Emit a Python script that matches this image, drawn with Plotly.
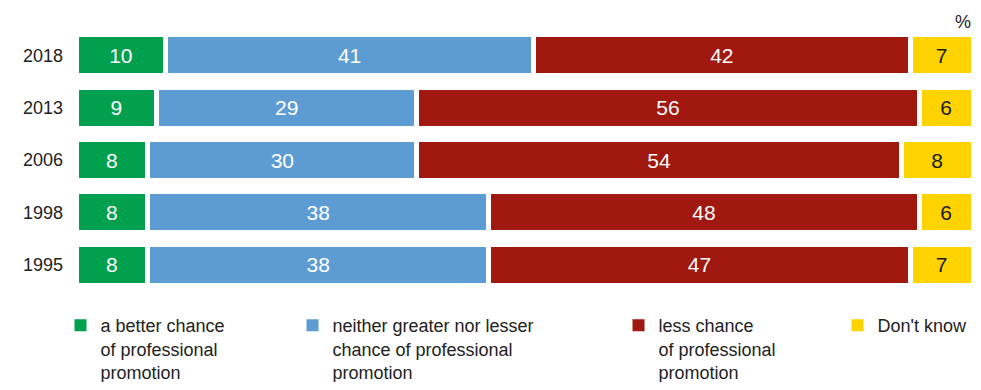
import plotly.graph_objects as go

years = ["2018", "2013", "2006", "1998", "1995"]
better = [10, 9, 8, 8, 8]
neither = [41, 29, 30, 38, 38]
less = [42, 56, 54, 48, 47]
dont_know = [7, 6, 8, 6, 7]

series_names = [
    "a better chance<br>of professional<br>promotion",
    "neither greater nor lesser<br>chance of professional<br>promotion",
    "less chance<br>of professional<br>promotion",
    "Don't know",
]
series_values = [better, neither, less, dont_know]
colors = ["#00A04F", "#5D9CD3", "#A0180F", "#FFD300"]
text_colors = ["#FFFFFF", "#FFFFFF", "#FFFFFF", "#1A1A1A"]

FONT = "Liberation Sans, Arial, sans-serif"

# page body has an 8px margin, so the figure is sized to fit inside the window
W, H = 965, 374
ML, MR, MT, MB = 68, 0, 21, 91
PW = W - ML - MR
PH = H - MT - MB

def px_x(px):
    return (px - ML) / PW

def px_y(py):
    return (H - MB - py) / PH

legend_left_px = [52.5, 284.5, 610.5, 829.5]
legend_top_px = 299

fig = go.Figure()
for i, (name, vals) in enumerate(zip(series_names, series_values)):
    fig.add_trace(go.Bar(
        y=years, x=vals, orientation="h", name=name,
        marker=dict(color=colors[i], line=dict(color="white", width=5)),
        text=[str(v) for v in vals], textposition="inside",
        insidetextanchor="middle", constraintext="none",
        textfont=dict(color=text_colors[i], size=21, family=FONT),
        hoverinfo="skip", showlegend=False,
    ))

# legend entries (one legend per entry so each can be placed freely)
for i, name in enumerate(series_names):
    lg = "legend" if i == 0 else f"legend{i+1}"
    fig.add_trace(go.Scatter(
        x=[None], y=[None], mode="markers", name=name,
        marker=dict(symbol="square", size=12, color=colors[i], line=dict(width=0)),
        showlegend=True, legend=lg, hoverinfo="skip",
    ))

layout_legends = {}
for i in range(4):
    key = "legend" if i == 0 else f"legend{i+1}"
    layout_legends[key] = dict(
        x=px_x(legend_left_px[i]), y=px_y(legend_top_px),
        xanchor="left", yanchor="top", orientation="h",
        valign="top", bgcolor="rgba(0,0,0,0)", borderwidth=0,
        font=dict(size=18, color="#222222", family=FONT),
        itemwidth=30, itemclick=False, itemdoubleclick=False,
    )

fig.update_layout(
    width=W, height=H,
    margin=dict(l=ML, r=MR, t=MT, b=MB, autoexpand=False),
    barmode="stack", bargap=0.22,
    plot_bgcolor="white", paper_bgcolor="white",
    showlegend=True,
    xaxis=dict(range=[0, 100], visible=False, fixedrange=True),
    yaxis=dict(type="category", categoryorder="array", categoryarray=years,
               range=[4.5, -0.5], showgrid=False, zeroline=False, showline=False,
               ticks="", ticklabelstandoff=12,
               tickfont=dict(size=18, color="#222222", family=FONT),
               fixedrange=True),
    annotations=[dict(text="%", x=1, y=1, xref="paper", yref="paper",
                      xanchor="right", yanchor="bottom", showarrow=False, yshift=-5,
                      font=dict(size=18, color="#222222", family=FONT))],
    **layout_legends,
)

fig.write_html("out.html")
